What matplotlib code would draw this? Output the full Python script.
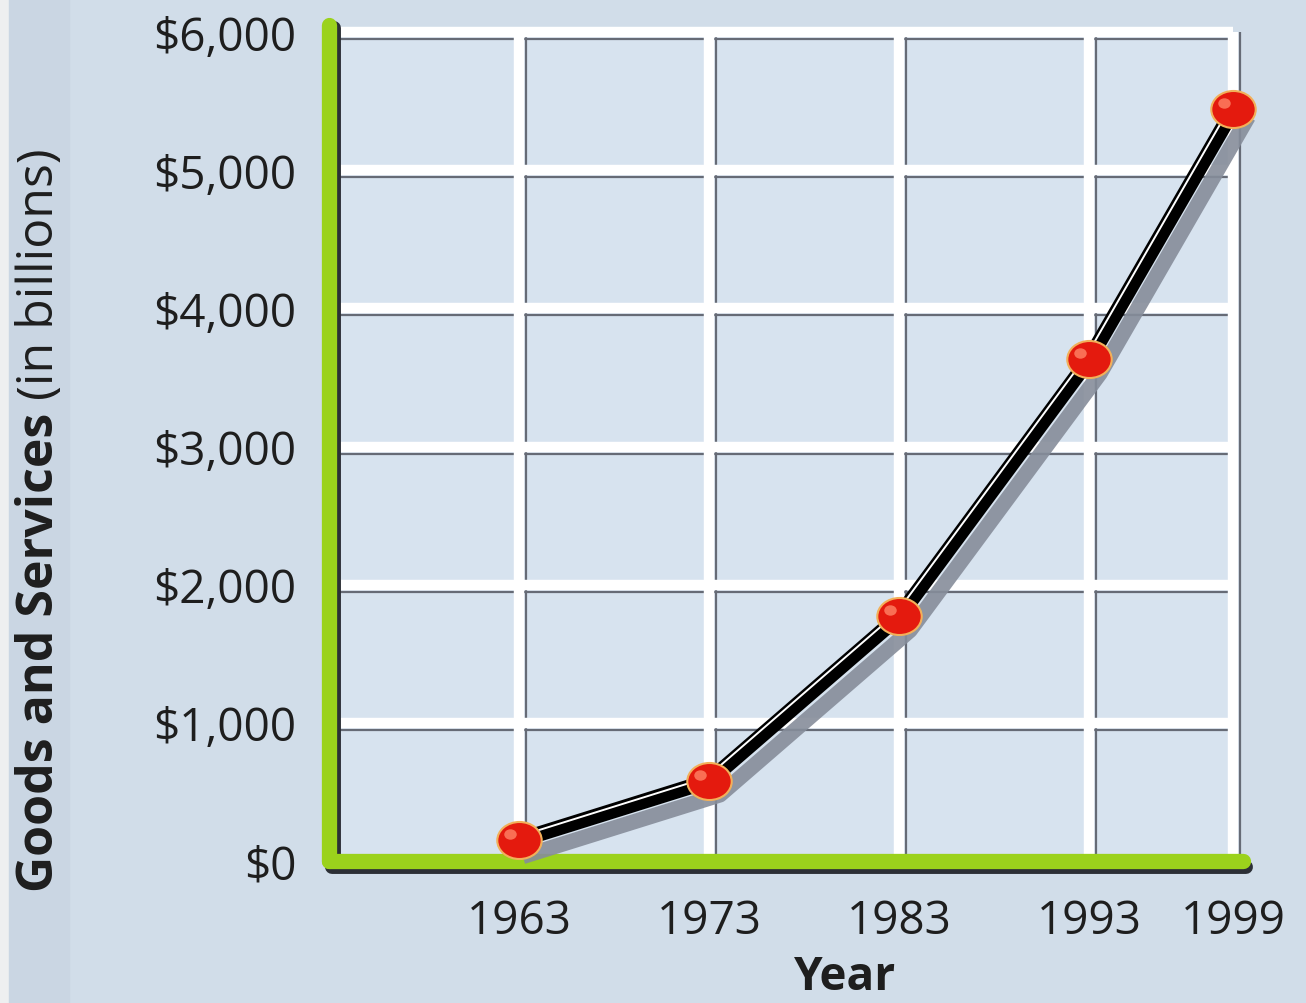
import numpy as np
import matplotlib
matplotlib.use('Agg')
import matplotlib.pyplot as plt
import matplotlib.transforms as mtransforms
from matplotlib.patches import Rectangle
from matplotlib.path import Path

# Data

years = [1963, 1973, 1983, 1993, 1999]
values = [150, 580, 1770, 3630, 5440]   # goods and services, billions of dollars
y_ticks = [0, 1000, 2000, 3000, 4000, 5000, 6000]
y_labels = ['$0', '$1,000', '$2,000', '$3,000', '$4,000', '$5,000', '$6,000']
x_start = 1953

# Sizes & colours

bg = '#d1dde9'
cell = '#d7e3ef'
green = '#9bd21c'
ticksize = 33
labelsize = 36

plt.rcParams['font.family'] = ['Open Sans', 'DejaVu Sans']

fig = plt.figure(figsize=(13.06, 10.04), dpi=100, facecolor=bg)
fig.add_artist(Rectangle((0, 0), 9/1306, 1, transform=fig.transFigure,
                         color='#eeeff0', zorder=0))
fig.add_artist(Rectangle((9/1306, 0), 60/1306, 1, transform=fig.transFigure,
                         color='#cad6e3', zorder=0))
ax = fig.add_axes([0.2374, 0.1277, 0.7255, 0.8669])
ax.set_facecolor('none')
for s in ax.spines.values():
    s.set_visible(False)

# the last interval (1993-1999) is drawn a bit wider than 6/10 of a decade
def fwd(x):
    x = np.asarray(x, dtype=float)
    return np.where(x <= 1993, (x - 1953) / 10, 4 + (x - 1993) / 6 * 0.76)

def inv(p):
    p = np.asarray(p, dtype=float)
    return np.where(p <= 4, 1953 + 10 * p, 1993 + (p - 4) * 6 / 0.76)

ax.set_xscale('function', functions=(fwd, inv))
ax.set_xlim(1952, 2000)
ax.set_ylim(-100, 6200)

# offset transforms for shadows
def shifted(dx, dy):
    return mtransforms.offset_copy(ax.transData, fig=fig, x=dx, y=dy, units='dots')

# Grid: light cells, dark edge underneath, white bar on top
gx0, gx1 = x_start, years[-1]
ax.fill_between([gx0, gx1], 0, y_ticks[-1], color=cell, lw=0, zorder=0)
ax.hlines(y_ticks[1:], gx0, gx1, colors='#666b76', lw=1.6,
          transform=shifted(0, -7), zorder=1)
ax.vlines(years, 0, y_ticks[-1], colors='#666b76', lw=1.6,
          transform=shifted(7, 0), zorder=1)
ax.hlines(y_ticks[1:], gx0, gx1, colors='white', lw=7.5, zorder=2)
ax.vlines(years, 0, y_ticks[-1], colors='white', lw=7.5, zorder=2)

# Green axes with dark edge
ax.plot([x_start, x_start], [0, 6050], color='#2c2f36', lw=10,
        solid_capstyle='round', transform=shifted(5, -3), zorder=3)
ax.plot([x_start, 1999.4], [0, 0], color='#2c2f36', lw=10,
        solid_capstyle='round', transform=shifted(3, -6), zorder=3)
ax.plot([x_start, x_start], [0, 6050], color=green, lw=11,
        solid_capstyle='round', zorder=4)
ax.plot([x_start, 1999.4], [0, 0], color=green, lw=11,
        solid_capstyle='round', zorder=4)

# Line with shadow, black body, white highlight
ax.plot(years, values, color='#868d9a', lw=11, alpha=0.9,
        solid_joinstyle='round', transform=shifted(11, -14), zorder=5)
ax.plot(years, values, color='black', lw=11, solid_joinstyle='round', zorder=6)
ax.plot(years, values, color='white', lw=1.4, solid_joinstyle='round',
        transform=shifted(-3, 3), zorder=7)

# Red dots (slightly wide, like the printed chart)
circ = Path.unit_circle()
oval = Path(circ.vertices * [1.2, 1.0], circ.codes)
ax.plot(years, values, ls='none', marker=oval, ms=32, mfc='#e41a0e',
        mec='#f2b05a', mew=1.5, zorder=8)
ax.plot(years, values, ls='none', marker=oval, ms=9, mfc='#ff8466', mec='none',
        alpha=0.8, transform=shifted(-9, 6), zorder=9)

# Axes ticks & labels
ax.set_yticks(y_ticks)
ax.set_yticklabels(y_labels)
ax.set_xticks(years)
ax.set_xticklabels([str(y) for y in years])
ax.xaxis.set_minor_locator(matplotlib.ticker.NullLocator())
ax.tick_params(axis='y', length=0, pad=10, labelsize=ticksize, labelcolor='#1e1e1e')
ax.tick_params(axis='x', length=0, pad=17, labelsize=ticksize, labelcolor='#1e1e1e')

fig.text(845/1306, 26/1004, 'Year', fontsize=ticksize, fontweight='bold',
         ha='center', va='center', color='#1e1e1e')

t1 = fig.text(40/1306, 112/1004, 'Goods and Services', rotation=90,
              fontsize=labelsize, fontweight='bold', ha='center', va='bottom',
              color='#1e1e1e')
ax.annotate(' (in billions)', xy=(0.5, 1), xycoords=t1, rotation=90,
            fontsize=labelsize, ha='center', va='bottom', color='#1e1e1e',
            annotation_clip=False)

# Save

fig.savefig('out.png', dpi=100, facecolor=bg)
